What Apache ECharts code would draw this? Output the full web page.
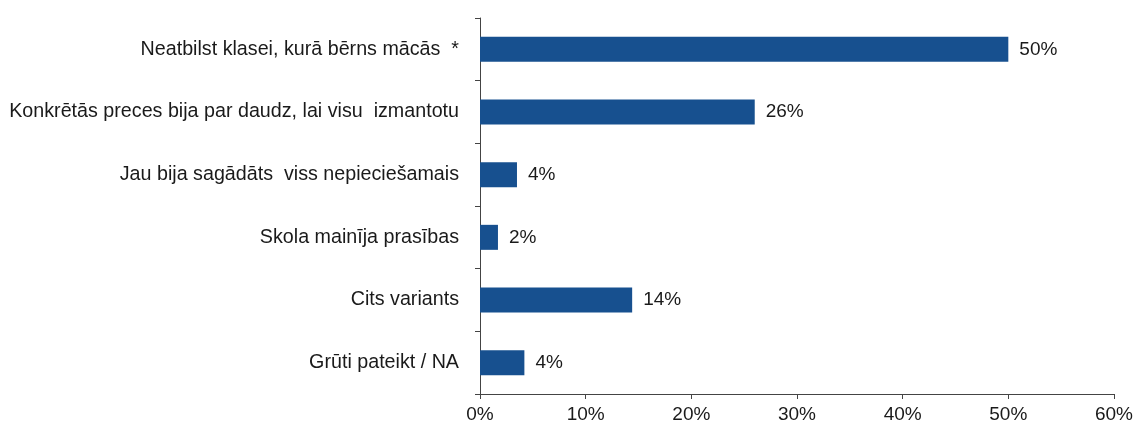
<!DOCTYPE html>
<html lang="lv">
<head>
    <meta charset="UTF-8">
    <title>Iemesli</title>
    <script src="https://cdn.jsdelivr.net/npm/echarts@6/dist/echarts.min.js"></script>
    <style>
        html, body { margin: 0; padding: 0; background: #fff; }
    </style>
</head>
<body>
    <div id="main" style="width: 1136px;height:443px;"></div>
    <script type="text/javascript">
        var categories = [
            'Neatbilst klasei, kurā bērns mācās  *',
            'Konkrētās preces bija par daudz, lai visu  izmantotu',
            'Jau bija sagādāts  viss nepieciešamais',
            'Skola mainīja prasības',
            'Cits variants',
            'Grūti pateikt / NA'
        ];
        // bar lengths as drawn; labels are rounded
        var values = [50, 26, 3.5, 1.7, 14.4, 4.2];
        var xTicks = [0, 10, 20, 30, 40, 50, 60];

        var font = '"Liberation Sans", Arial, sans-serif';
        var myChart = echarts.init(document.getElementById('main'));

        var option = {
            animation: false,
            grid: {
                left: 480,
                right: 21,
                top: 18,
                bottom: 49
            },
            xAxis: {
                type: 'value',
                min: xTicks[0],
                max: xTicks[xTicks.length - 1],
                interval: 10,
                splitLine: { show: false },
                axisLine: { show: true, lineStyle: { color: '#444', width: 1 } },
                axisTick: { show: true, length: 5, lineStyle: { color: '#444' } },
                axisLabel: {
                    margin: 11,
                    fontSize: 19,
                    fontFamily: font,
                    color: '#1a1a1a',
                    formatter: function (v) { return v + '%'; }
                }
            },
            yAxis: {
                type: 'category',
                inverse: true,
                data: categories,
                axisLine: { show: true, lineStyle: { color: '#444', width: 1 } },
                axisTick: { show: true, length: 5, lineStyle: { color: '#444' } },
                axisLabel: {
                    margin: 21,
                    fontSize: 19.7,
                    fontFamily: font,
                    color: '#1a1a1a'
                }
            },
            series: [
                {
                    type: 'bar',
                    data: values,
                    barWidth: 25,
                    itemStyle: { color: '#17508F' },
                    label: {
                        show: true,
                        position: 'right',
                        distance: 11,
                        fontSize: 19,
                        fontFamily: font,
                        color: '#1a1a1a',
                        formatter: function (p) { return Math.round(p.value) + '%'; }
                    }
                }
            ]
        };

        myChart.setOption(option);
    </script>
</body>
</html>
